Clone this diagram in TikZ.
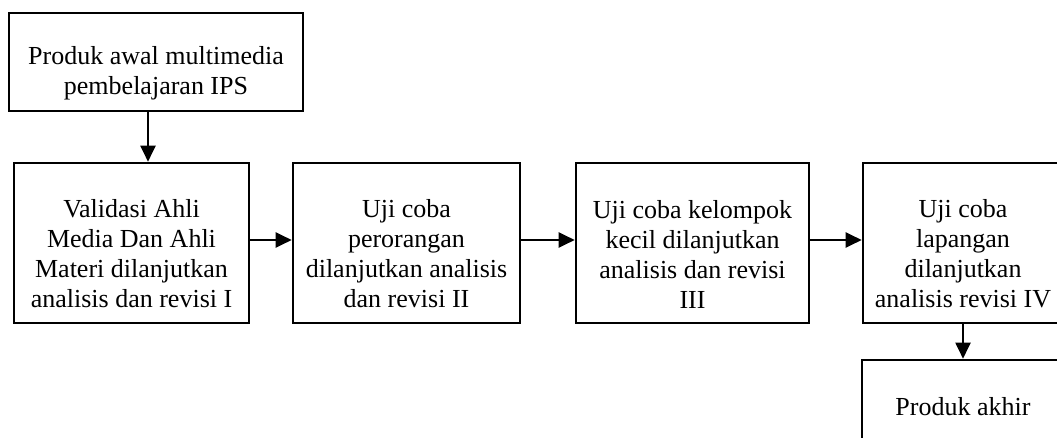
\documentclass[tikz,border=0pt]{standalone}
\usepackage{fontspec}
\setmainfont{Liberation Serif}
\usetikzlibrary{arrows.meta}
\newcommand{\spasi}{\rule{0pt}{40pt}}

\begin{document}
\begin{tikzpicture}[x=1pt, y=1pt,
    box/.style={draw, line width=2.6pt, align=center, inner sep=0pt,
      font=\fontsize{26}{30}\selectfont},
    panah/.style={line width=2pt, -{Triangle[length=16pt, width=15pt]}}]
			%%%%% START %%%%%
			\useasboundingbox (0, 0) rectangle (1057, 437);
			
			\node[box, minimum width=294, minimum height=98] (awal) at (156, 375)
			  {\spasi Produk awal multimedia\\pembelajaran IPS};
			
			\node[box, minimum width=235, minimum height=160] (validasi) at (131.5, 194)
			  {\spasi Validasi Ahli\\Media Dan Ahli\\Materi dilanjutkan\\analisis dan revisi I};
			\node[box, minimum width=227, minimum height=160] (perorangan) at (406.5, 194)
			  {\spasi Uji coba\\perorangan\\dilanjutkan analisis\\dan revisi II};
			\node[box, minimum width=233, minimum height=160] (kelompok) at (692.5, 194)
			  {\spasi Uji coba kelompok\\kecil dilanjutkan\\analisis dan revisi\\III};
			\node[box, minimum width=200, minimum height=160] (lapangan) at (963, 194)
			  {\spasi Uji coba\\lapangan\\dilanjutkan\\analisis revisi IV};
			
			\node[box, minimum width=202, minimum height=94] (akhir) at (963, 30)
			  {Produk akhir};
			
			\draw[panah] ([xshift=-8]awal.south) -- ([xshift=-8]awal.south |- validasi.north);
			\draw[panah] ([yshift=3]validasi.east) -- ([yshift=3]perorangan.west);
			\draw[panah] ([yshift=3]perorangan.east) -- ([yshift=3]kelompok.west);
			\draw[panah] ([yshift=3]kelompok.east) -- ([yshift=3]lapangan.west);
			\draw[panah] (lapangan.south) -- (akhir.north);
			%%%%% END %%%%%
		\end{tikzpicture}
\end{document}
